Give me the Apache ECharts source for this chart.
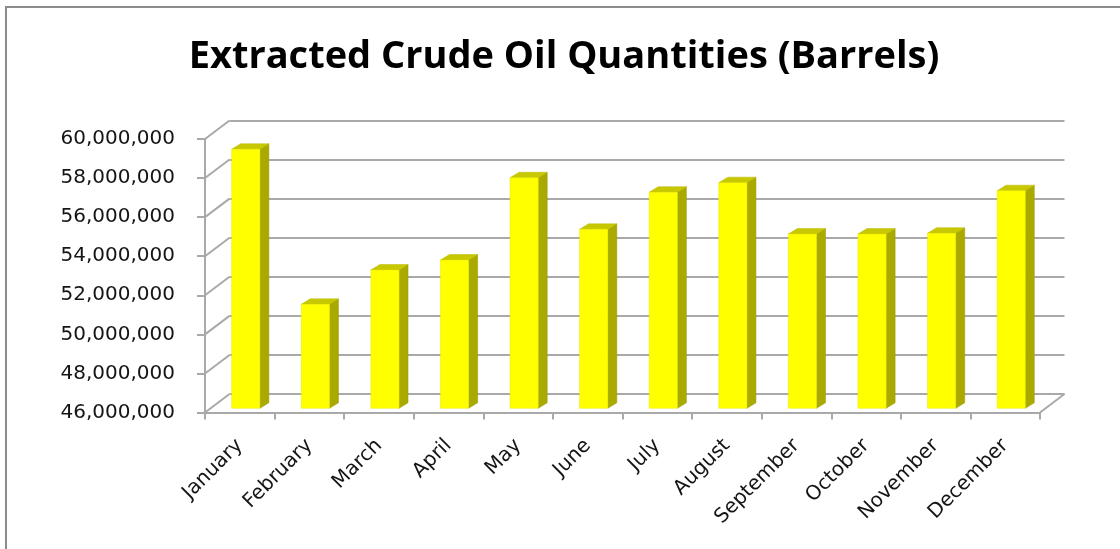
<!DOCTYPE html>
<html>
<head>
<meta charset="utf-8">
<title>Extracted Crude Oil Quantities (Barrels)</title>
<script src="https://cdn.jsdelivr.net/npm/echarts@6/dist/echarts.min.js"></script>
<style>
  html, body { margin: 0; padding: 0; background: #ffffff; }
  #chart { width: 1120px; height: 549px; }
</style>
</head>
<body>
<div id="chart"></div>
<script>
// Monthly extracted quantities (barrels)
const months = ['January', 'February', 'March', 'April', 'May', 'June',
                'July', 'August', 'September', 'October', 'November', 'December'];
const barrels = [59260000, 51320000, 53080000, 53590000, 57800000, 55160000,
                 57060000, 57550000, 54920000, 54920000, 54960000, 57140000];
// Value axis ticks
const yTicks = [46000000, 48000000, 50000000, 52000000, 54000000, 56000000, 58000000, 60000000];

const Y_MIN = yTicks[0];
const Y_MAX = yTicks[yTicks.length - 1];
const Y_STEP = yTicks[1] - yTicks[0];

// Perspective: offset of the back wall relative to the front plane
const WALL_DX = 24.5, WALL_DY = -18.5;
// Bars stand a little behind the front edge of the floor
const BAR_DX = 6, BAR_DY = -4.2;
// Depth of each column
const DEPTH_DX = 9, DEPTH_DY = -5.5;

const GRID_COLOR = '#a9a9a9';
const LABEL_FONT = 'DejaVu Sans';
const LABEL_COLOR = '#151515';

const chart = echarts.init(document.getElementById('chart'), null, { renderer: 'canvas' });

function fmt(v) {
  return v.toLocaleString('en-US');
}

const option = {
  backgroundColor: '#ffffff',
  animation: false,
  title: {
    text: 'Extracted Crude Oil Quantities (Barrels)',
    left: 559,
    textAlign: 'center',
    top: 33,
    textStyle: {
      fontFamily: 'Open Sans',
      fontWeight: 'bold',
      fontSize: 38,
      color: '#000000'
    }
  },
  graphic: [
    {
      type: 'rect',
      silent: true,
      z: -10,
      shape: { x: 6, y: 7, width: 1300, height: 700 },
      style: { fill: 'none', stroke: '#8c8c8c', lineWidth: 2 }
    }
  ],
  grid: [
    // front plane: axes, ticks and labels
    { left: 205, right: 80, top: 139, bottom: 136.5 },
    // back wall: horizontal gridlines
    { left: 205 + WALL_DX, right: 80 - WALL_DX, top: 139 + WALL_DY, bottom: 136.5 - WALL_DY }
  ],
  xAxis: [
    {
      type: 'category',
      gridIndex: 0,
      data: months,
      boundaryGap: true,
      axisLine: { show: true, lineStyle: { color: GRID_COLOR, width: 2 } },
      axisTick: { show: true, length: 7, alignWithLabel: false, lineStyle: { color: GRID_COLOR, width: 2 } },
      axisLabel: {
        rotate: 45,
        margin: 30,
        fontFamily: LABEL_FONT,
        fontSize: 20,
        color: LABEL_COLOR,
        interval: 0
      },
      splitLine: { show: false }
    },
    {
      type: 'category',
      gridIndex: 1,
      data: months,
      show: false
    }
  ],
  yAxis: [
    {
      type: 'value',
      gridIndex: 0,
      min: Y_MIN,
      max: Y_MAX,
      interval: Y_STEP,
      axisLine: { show: true, lineStyle: { color: GRID_COLOR, width: 2 } },
      axisTick: { show: true, length: 8, lineStyle: { color: GRID_COLOR, width: 2 } },
      axisLabel: {
        margin: 30,
        fontFamily: LABEL_FONT,
        fontSize: 20,
        color: LABEL_COLOR,
        formatter: fmt
      },
      splitLine: { show: false }
    },
    {
      type: 'value',
      gridIndex: 1,
      min: Y_MIN,
      max: Y_MAX,
      interval: Y_STEP,
      axisLine: { show: false },
      axisTick: { show: false },
      axisLabel: { show: false },
      splitLine: { show: true, lineStyle: { color: GRID_COLOR, width: 2 } }
    }
  ],
  series: [
    // side wall: diagonal lines joining front ticks to back gridlines
    {
      type: 'custom',
      xAxisIndex: 0,
      yAxisIndex: 0,
      silent: true,
      z: 1,
      data: yTicks.map(v => [0, v]),
      renderItem: function (params, api) {
        const p = api.coord([api.value(0), api.value(1)]);
        const band = api.size([1, 0])[0];
        const x0 = p[0] - band / 2;
        return {
          type: 'line',
          shape: { x1: x0, y1: p[1], x2: x0 + WALL_DX, y2: p[1] + WALL_DY },
          style: { stroke: GRID_COLOR, lineWidth: 2 }
        };
      }
    },
    // floor: right-hand edge
    {
      type: 'custom',
      xAxisIndex: 0,
      yAxisIndex: 0,
      silent: true,
      z: 1,
      data: [[months.length - 1, Y_MIN]],
      renderItem: function (params, api) {
        const p = api.coord([api.value(0), api.value(1)]);
        const band = api.size([1, 0])[0];
        const x0 = p[0] + band / 2;
        return {
          type: 'line',
          shape: { x1: x0, y1: p[1], x2: x0 + WALL_DX, y2: p[1] + WALL_DY },
          style: { stroke: GRID_COLOR, lineWidth: 2 }
        };
      }
    },
    // 3D columns
    {
      type: 'custom',
      name: 'Barrels',
      xAxisIndex: 0,
      yAxisIndex: 0,
      z: 5,
      data: barrels.map((v, i) => [i, v]),
      renderItem: function (params, api) {
        const i = api.value(0);
        const v = api.value(1);
        const top = api.coord([i, v]);
        const base = api.coord([i, Y_MIN]);
        const band = api.size([1, 0])[0];
        const w = band * 0.405;
        const xl = top[0] + BAR_DX - w / 2;
        const xr = xl + w;
        const yt = top[1] + BAR_DY;
        const yb = base[1] + BAR_DY;
        return {
          type: 'group',
          children: [
            { // right side
              type: 'polygon',
              shape: { points: [[xr, yt], [xr + DEPTH_DX, yt + DEPTH_DY], [xr + DEPTH_DX, yb + DEPTH_DY], [xr, yb]] },
              style: { fill: '#a9a900', stroke: '#9a9a00', lineWidth: 0.5 }
            },
            { // top
              type: 'polygon',
              shape: { points: [[xl, yt], [xl + DEPTH_DX, yt + DEPTH_DY], [xr + DEPTH_DX, yt + DEPTH_DY], [xr, yt]] },
              style: { fill: '#c8c800', stroke: '#b8b800', lineWidth: 0.5 }
            },
            { // front
              type: 'rect',
              shape: { x: xl, y: yt, width: w, height: yb - yt },
              style: { fill: '#ffff00', stroke: '#e6e600', lineWidth: 0.5 }
            }
          ]
        };
      }
    }
  ]
};

chart.setOption(option);
</script>
</body>
</html>
